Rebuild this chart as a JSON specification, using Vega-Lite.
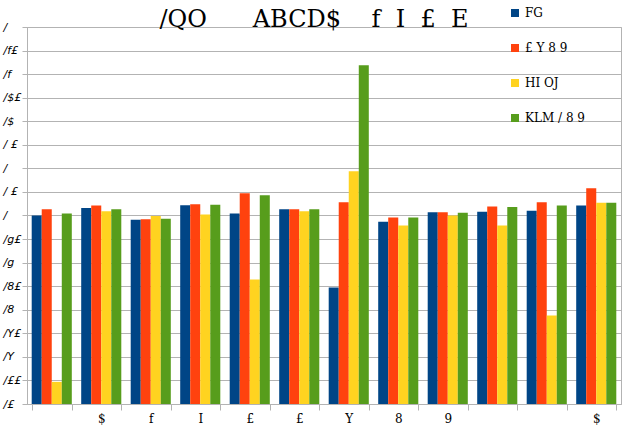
{
  "$schema": "https://vega.github.io/schema/vega-lite/v6.json",
  "width": 594,
  "height": 377,
  "autosize": {"type": "none"},
  "padding": {"left": 27, "top": 27, "right": 6, "bottom": 37},
  "background": "white",
  "config": {
    "view": {"stroke": "#b3b3b3", "strokeWidth": 1},
    "font": "DejaVu Sans"
  },
  "title": {
    "text": "/QO\u00a0\u00a0\u00a0\u00a0\u00a0\u00a0ABCD$\u00a0\u00a0\u00a0\u00a0f\u00a0\u00a0I\u00a0\u00a0£\u00a0\u00a0E",
    "font": "DejaVu Serif",
    "fontSize": 24,
    "fontWeight": "normal",
    "color": "#000000",
    "anchor": "middle",
    "dx": -10,
    "offset": -25
  },
  "data": {
    "values": [
      {"g": 1, "s": "FG", "v": 1.0},
      {"g": 1, "s": "£ Y 8 9", "v": 1.013},
      {"g": 1, "s": "HI OJ", "v": 0.647},
      {"g": 1, "s": "KLM / 8 9", "v": 1.004},
      {"g": 2, "s": "FG", "v": 1.016},
      {"g": 2, "s": "£ Y 8 9", "v": 1.021},
      {"g": 2, "s": "HI OJ", "v": 1.009},
      {"g": 2, "s": "KLM / 8 9", "v": 1.013},
      {"g": 3, "s": "FG", "v": 0.991},
      {"g": 3, "s": "£ Y 8 9", "v": 0.992},
      {"g": 3, "s": "HI OJ", "v": 0.999},
      {"g": 3, "s": "KLM / 8 9", "v": 0.993},
      {"g": 4, "s": "FG", "v": 1.022},
      {"g": 4, "s": "£ Y 8 9", "v": 1.024},
      {"g": 4, "s": "HI OJ", "v": 1.002},
      {"g": 4, "s": "KLM / 8 9", "v": 1.023},
      {"g": 5, "s": "FG", "v": 1.004},
      {"g": 5, "s": "£ Y 8 9", "v": 1.047},
      {"g": 5, "s": "HI OJ", "v": 0.864},
      {"g": 5, "s": "KLM / 8 9", "v": 1.043},
      {"g": 6, "s": "FG", "v": 1.013},
      {"g": 6, "s": "£ Y 8 9", "v": 1.013},
      {"g": 6, "s": "HI OJ", "v": 1.009},
      {"g": 6, "s": "KLM / 8 9", "v": 1.013},
      {"g": 7, "s": "FG", "v": 0.847},
      {"g": 7, "s": "£ Y 8 9", "v": 1.028},
      {"g": 7, "s": "HI OJ", "v": 1.094},
      {"g": 7, "s": "KLM / 8 9", "v": 1.319},
      {"g": 8, "s": "FG", "v": 0.987},
      {"g": 8, "s": "£ Y 8 9", "v": 0.996},
      {"g": 8, "s": "HI OJ", "v": 0.979},
      {"g": 8, "s": "KLM / 8 9", "v": 0.996},
      {"g": 9, "s": "FG", "v": 1.007},
      {"g": 9, "s": "£ Y 8 9", "v": 1.007},
      {"g": 9, "s": "HI OJ", "v": 1.0},
      {"g": 9, "s": "KLM / 8 9", "v": 1.006},
      {"g": 10, "s": "FG", "v": 1.008},
      {"g": 10, "s": "£ Y 8 9", "v": 1.019},
      {"g": 10, "s": "HI OJ", "v": 0.979},
      {"g": 10, "s": "KLM / 8 9", "v": 1.018},
      {"g": 11, "s": "FG", "v": 1.01},
      {"g": 11, "s": "£ Y 8 9", "v": 1.028},
      {"g": 11, "s": "HI OJ", "v": 0.788},
      {"g": 11, "s": "KLM / 8 9", "v": 1.021},
      {"g": 12, "s": "FG", "v": 1.021},
      {"g": 12, "s": "£ Y 8 9", "v": 1.058},
      {"g": 12, "s": "HI OJ", "v": 1.027},
      {"g": 12, "s": "KLM / 8 9", "v": 1.027}
    ]
  },
  "mark": {"type": "bar"},
  "encoding": {
    "x": {
      "field": "g",
      "type": "ordinal",
      "scale": {"paddingInner": 0.19, "paddingOuter": 0.095},
      "axis": {
        "title": null,
        "labelAngle": 0,
        "labelExpr": "['', '$', 'f', 'I', '£', '£', 'Y', '8', '9', '', '', '$'][datum.value - 1]",
        "labelFont": "DejaVu Serif",
        "labelFontSize": 12,
        "labelColor": "#000000",
        "labelPadding": 3,
        "tickBand": "extent",
        "tickColor": "#b3b3b3",
        "tickSize": 6,
        "domainColor": "#b3b3b3",
        "grid": false
      }
    },
    "xOffset": {
      "field": "s",
      "type": "nominal",
      "sort": ["FG", "£ Y 8 9", "HI OJ", "KLM / 8 9"],
      "scale": {"paddingInner": 0, "paddingOuter": 0}
    },
    "y": {
      "field": "v",
      "type": "quantitative",
      "scale": {"domain": [0.6, 1.4], "zero": false, "nice": false},
      "axis": {
        "title": null,
        "values": [0.6, 0.65, 0.7, 0.75, 0.8, 0.85, 0.9, 0.95, 1.0, 1.05, 1.1, 1.15, 1.2, 1.25, 1.3, 1.35, 1.4],
        "labelExpr": "['/£', '/££', '/Y', '/Y£', '/8', '/8£', '/g', '/g£', '/', '/\u00a0£', '/', '/\u00a0£', '/$', '/$£', '/f', '/f£', '/'][round((datum.value - 0.6) / 0.05)]",
        "labelFont": "DejaVu Sans",
        "labelFontStyle": "italic",
        "labelFontSize": 11,
        "labelColor": "#000000",
        "labelAlign": "left",
        "labelPadding": 19,
        "tickColor": "#b3b3b3",
        "tickSize": 5,
        "domainColor": "#b3b3b3",
        "gridColor": "#b3b3b3",
        "gridWidth": 1
      }
    },
    "y2": {"datum": 0.6},
    "color": {
      "field": "s",
      "type": "nominal",
      "scale": {
        "domain": ["FG", "£ Y 8 9", "HI OJ", "KLM / 8 9"],
        "range": ["#004586", "#ff420e", "#ffd320", "#579d1c"]
      },
      "legend": {
        "title": null,
        "orient": "none",
        "legendX": 482,
        "legendY": -20,
        "symbolType": "square",
        "symbolSize": 64,
        "symbolStrokeWidth": 0,
        "rowPadding": 23,
        "labelFont": "DejaVu Serif",
        "labelFontSize": 12,
        "labelColor": "#000000",
        "labelOffset": 4
      }
    }
  }
}
